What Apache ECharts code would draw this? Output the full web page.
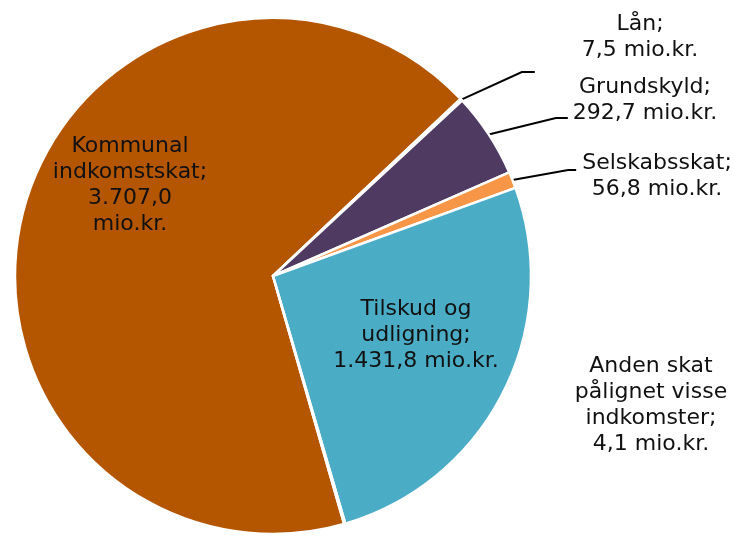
<!DOCTYPE html>
<html>
<head>
<meta charset="utf-8">
<script src="https://cdn.jsdelivr.net/npm/echarts@6/dist/echarts.min.js"></script>
<style>
  html, body { margin: 0; padding: 0; background: #fff; }
  #pie { width: 733px; height: 536px; }
</style>
</head>
<body>
<div id="pie"></div>
<script>
// data (mio.kr.), in the clockwise order of the slices
var names = ['Kommunal\nindkomstskat;', 'Lån;', 'Grundskyld;', 'Selskabsskat;', 'Tilskud og\nudligning;', 'Anden skat\npålignet visse\nindkomster;'];
var values = [3707.0, 7.5, 292.7, 56.8, 1431.8, 4.1];
var valueText = ['3.707,0\nmio.kr.', '7,5 mio.kr.', '292,7 mio.kr.', '56,8 mio.kr.', '1.431,8 mio.kr.', '4,1 mio.kr.'];
var colors = ['#b45500', '#f2f2f2', '#4f3a62', '#f79646', '#4bacc6', '#7f7f7f'];

// label anchor (x = text centre, y = where the leader line docks), extra blank space
// below (+) or above (-) the text so the line docks off-centre, and left padding
var labelPos = [[130, 185], [640, 72], [645, 118], [657, 170], [416, 335], [651, 405]];
var labelGap = [0, 70, 36, -12, 0, 0];
var labelPadLeft = [0, 47, 5, 6, 0, 0];
var showLine = [false, true, true, true, false, false];
var lineTail = [0, 13, 12, 8, 0, 0];

var chart = echarts.init(document.getElementById('pie'));

function labelText(i) {
  var lines = (names[i] + '\n' + valueText[i]).split('\n').map(function (s) { return '{t|' + s + '}'; });
  if (labelGap[i] > 0) lines.push('{g| }');
  if (labelGap[i] < 0) lines.unshift('{h| }');
  return lines.join('\n');
}

var seriesData = [];
for (var i = 0; i < values.length; i++) {
  var gap = Math.abs(labelGap[i]) || 1;
  seriesData.push({
    name: names[i],
    value: values[i],
    itemStyle: { color: colors[i] },
    label: {
      formatter: labelText(i),
      padding: [0, 0, 0, labelPadLeft[i]],
      rich: {
        t: { fontFamily: 'DejaVu Sans', fontSize: 22, lineHeight: 26, color: '#111' },
        g: { fontSize: 1, lineHeight: gap, height: gap },
        h: { fontSize: 1, lineHeight: gap, height: gap }
      }
    },
    labelLine: { show: showLine[i], length2: lineTail[i] }
  });
}

chart.setOption({
  animation: false,
  series: [{
    type: 'pie',
    center: [273, 276],
    radius: 258,
    startAngle: -74,
    clockwise: true,
    avoidLabelOverlap: false,
    itemStyle: { borderColor: '#fff', borderWidth: 2.5 },
    label: {
      show: true,
      position: 'outside',
      fontFamily: 'DejaVu Sans',
      fontSize: 22,
      lineHeight: 26,
      color: '#111',
      align: 'center'
    },
    labelLine: {
      show: true,
      length: 30,
      lineStyle: { color: '#000', width: 2 }
    },
    labelLayout: function (p) {
      var i = p.dataIndex;
      return {
        x: labelPos[i][0] - labelPadLeft[i] / 2,
        y: labelPos[i][1],
        align: 'center',
        verticalAlign: 'middle'
      };
    },
    data: seriesData
  }]
});
</script>
</body>
</html>
